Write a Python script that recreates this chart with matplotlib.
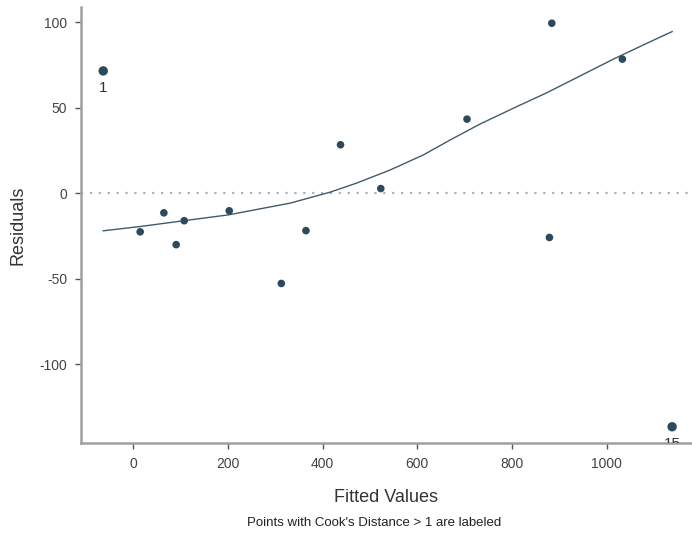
import numpy as np
import matplotlib
matplotlib.use("Agg")
from matplotlib import pyplot as plt

plt.rcParams['font.family'] = ['Liberation Sans', 'DejaVu Sans']

# fitted values vs residuals
fitted = [-63, 15, 65, 91, 108, 203, 313, 365, 438, 523, 705, 879, 884, 1033, 1138]
resid = [71.6, -22.5, -11.4, -30.0, -16.0, -10.2, -52.7, -21.8, 28.4, 2.8, 43.4, -25.8, 99.5, 78.5, -136.5]
obs_id = list(range(1, 16))
labeled = [1, 15]  # Cook's distance > 1

# smoother curve
smooth_x = [-63, 15, 110, 201, 332, 416, 472, 543, 613, 670, 733, 803, 874, 944, 1014, 1085, 1138]
smooth_y = [-21.9, -19.4, -15.9, -12.6, -5.7, 0.7, 6.0, 13.7, 22.5, 31.3, 40.6, 49.8, 58.9, 68.7, 78.5, 87.8, 94.6]

xticks = [0, 200, 400, 600, 800, 1000]
yticks = [-100, -50, 0, 50, 100]

pt_col = "#2c4a5c"
fig = plt.figure(figsize=(6.92, 5.36), dpi=100)
ax = fig.add_axes([0.117, 0.1735, 0.883, 0.8135])

ax.axhline(0, color="#9fb3c8", linestyle=(0, (1, 3)), linewidth=1.6, zorder=1)
ax.plot(smooth_x, smooth_y, color="#425a6a", linewidth=1.0, zorder=2)

sizes = [46 if i in labeled else 30 for i in obs_id]
ax.scatter(fitted, resid, s=sizes, color=pt_col, zorder=3, linewidths=0)

for fx, ry, i in zip(fitted, resid, obs_id):
    if i in labeled:
        ax.annotate(str(i), (fx, ry), xytext=(0, -7.5), textcoords="offset points",
                    ha="center", va="top", fontsize=11, color="#333333",
                    annotation_clip=False, clip_on=True)

ax.set_xlim(-110, 1180)
ax.set_ylim(-146, 109)
ax.set_xticks(xticks)
ax.set_yticks(yticks)
ax.set_yticklabels([str(t) for t in yticks])

for side in ["top", "right"]:
    ax.spines[side].set_visible(False)
for side in ["left", "bottom"]:
    ax.spines[side].set_color("#a0a0a0")
    ax.spines[side].set_linewidth(1.8)
ax.tick_params(axis="both", direction="out", length=4, width=1, color="#555555",
               labelsize=10, labelcolor="#444444", pad=6)

ax.set_xlabel("Fitted Values", fontsize=13, color="#333333", va="center")
ax.xaxis.set_label_coords(0.50, -0.124)
ax.set_ylabel("Residuals", fontsize=13, color="#333333", va="center")
ax.yaxis.set_label_coords(-0.103, 0.5)
fig.text(0.54, 0.024, "Points with Cook's Distance > 1 are labeled",
         ha="center", va="center", fontsize=9.5, color="#222222")

fig.savefig("out.png", dpi=100)
